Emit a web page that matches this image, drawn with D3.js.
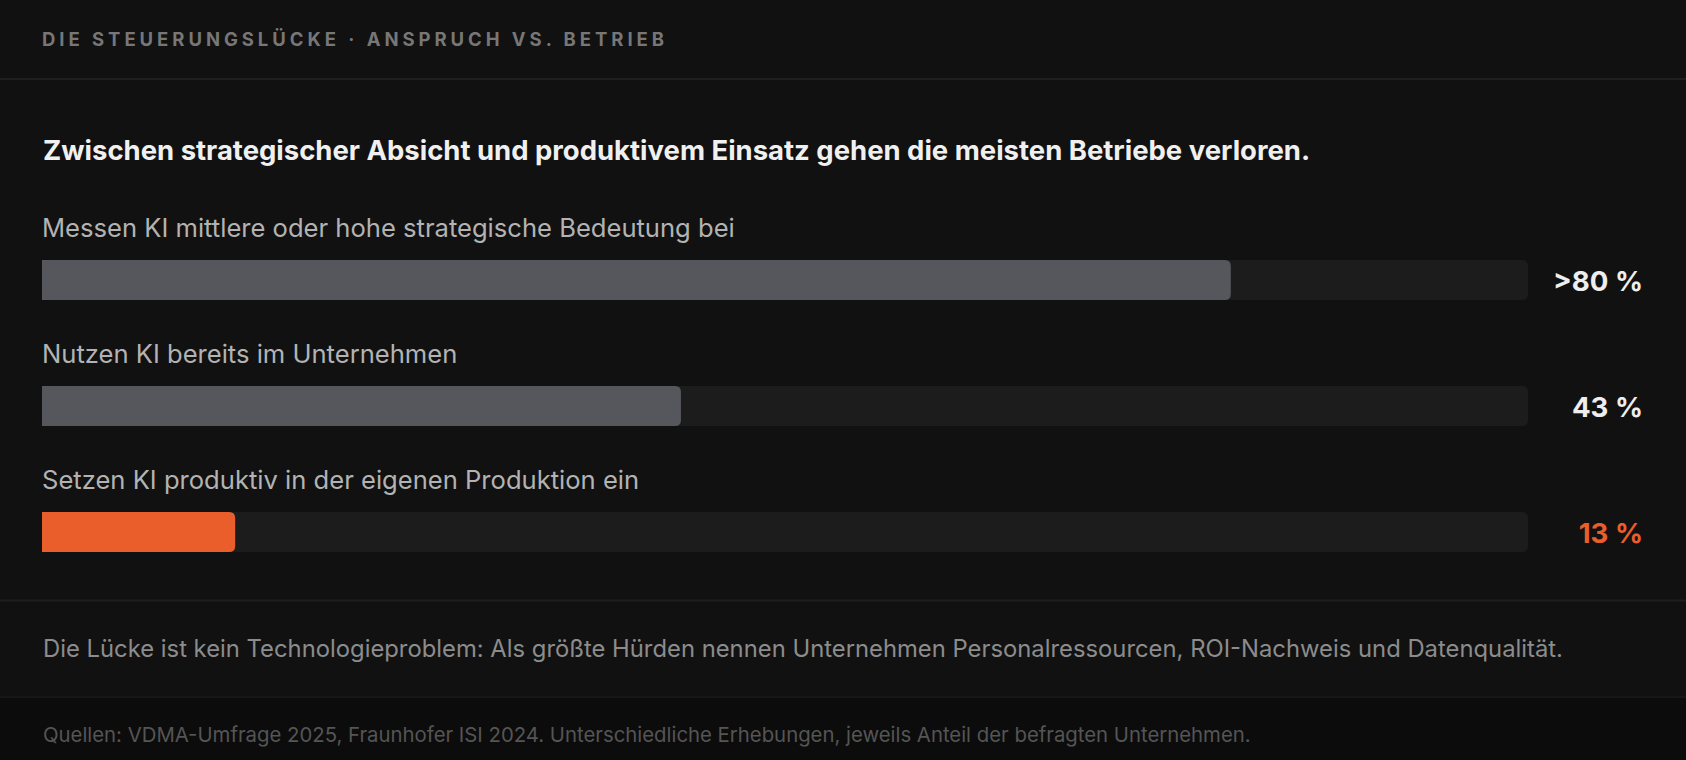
<!DOCTYPE html>
<html lang="de">
<head>
<meta charset="utf-8">
<script src="https://cdn.jsdelivr.net/npm/d3@7"></script>
<style>
  html, body { margin: 0; padding: 0; background: #111111; }
  svg { display: block; font-family: Inter, "Noto Sans", "DejaVu Sans", sans-serif; }
</style>
</head>
<body>
<svg id="chart" width="1686" height="760"></svg>
<script>
// ---- data ----
const headerText = "DIE STEUERUNGSLÜCKE · ANSPRUCH VS. BETRIEB";
const titleText = "Zwischen strategischer Absicht und produktivem Einsatz gehen die meisten Betriebe verloren.";
const categories = [
  "Messen KI mittlere oder hohe strategische Bedeutung bei",
  "Nutzen KI bereits im Unternehmen",
  "Setzen KI produktiv in der eigenen Produktion ein"
];
const values = [80, 43, 13];
const valueLabels = [">80 %", "43 %", "13 %"];
const highlight = [false, false, true];
const noteText = "Die Lücke ist kein Technologieproblem: Als größte Hürden nennen Unternehmen Personalressourcen, ROI-Nachweis und Datenqualität.";
const sourceText = "Quellen: VDMA-Umfrage 2025, Fraunhofer ISI 2024. Unterschiedliche Erhebungen, jeweils Anteil der befragten Unternehmen.";

// ---- layout ----
const W = 1686, H = 760;
const svg = d3.select("#chart");

const x = d3.scaleLinear().domain([0, 100]).range([42, 1528]);
const y = d3.scalePoint().domain(categories).range([260, 512]);
const barH = 40, r = 6;

function fitText(sel, targetWidth) {
  const node = sel.node();
  const base = parseFloat(sel.attr("font-size"));
  const w = node.getComputedTextLength();
  const fs = base * targetWidth / w;
  sel.attr("font-size", fs);
  return fs;
}

// backgrounds
svg.append("rect").attr("x", 0).attr("y", 0).attr("width", W).attr("height", H).attr("fill", "#111111");
svg.append("rect").attr("x", 0).attr("y", 697).attr("width", W).attr("height", H - 697).attr("fill", "#0c0c0c");
// dividers
[[79, "#1f1f1f"], [600.5, "#1f1f1f"], [697, "#171717"]].forEach(([yy, c]) => {
  svg.append("line").attr("x1", 0).attr("x2", W).attr("y1", yy).attr("y2", yy)
    .attr("stroke", c).attr("stroke-width", 2);
});

// header
svg.append("text")
  .attr("x", 42).attr("y", 45.7)
  .attr("font-size", 18.5).attr("font-weight", 700)
  .attr("fill", "#777777")
  .attr("textLength", 622).attr("lengthAdjust", "spacing")
  .text(headerText);

// title
const title = svg.append("text")
  .attr("x", 43).attr("y", 159.5)
  .attr("font-size", 25).attr("font-weight", 700)
  .attr("fill", "#f0f0f0")
  .text(titleText);
fitText(title, 1268);

// labels
const labels = svg.selectAll("text.label").data(categories).join("text")
  .attr("class", "label")
  .attr("x", 42)
  .attr("y", d => y(d) - 22.7)
  .attr("font-size", 24)
  .attr("fill", "#b3b3b3")
  .text(d => d);
const labelFs = fitText(d3.select(labels.nodes()[0]), 693);
labels.attr("font-size", labelFs);

// tracks
function rightRounded(x0, y0, w, h, rad) {
  const rr = Math.min(rad, w);
  return `M${x0},${y0}H${x0 + w - rr}Q${x0 + w},${y0} ${x0 + w},${y0 + rr}V${y0 + h - rr}Q${x0 + w},${y0 + h} ${x0 + w - rr},${y0 + h}H${x0}Z`;
}
svg.selectAll("path.track").data(categories).join("path")
  .attr("class", "track")
  .attr("d", d => rightRounded(x(0), y(d), x(100) - x(0), barH, r))
  .attr("fill", "#1c1c1c");

// fills
svg.selectAll("path.fill").data(categories).join("path")
  .attr("class", "fill")
  .attr("d", (d, i) => rightRounded(x(0), y(d), x(values[i]) - x(0), barH, r))
  .attr("fill", (d, i) => highlight[i] ? "#e95e2b" : "#56575c");

// value labels
const vals = svg.selectAll("text.val").data(categories).join("text")
  .attr("class", "val")
  .attr("x", 1643)
  .attr("y", d => y(d) + 31)
  .attr("text-anchor", "end")
  .attr("font-size", 26).attr("font-weight", 700)
  .attr("fill", (d, i) => highlight[i] ? "#e95e2b" : "#eeeeee")
  .text((d, i) => valueLabels[i]);
const valFs = fitText(d3.select(vals.nodes()[0]), 90);
vals.attr("font-size", valFs);

// note
const note = svg.append("text")
  .attr("x", 43).attr("y", 657.3)
  .attr("font-size", 22)
  .attr("fill", "#8c8c8c")
  .text(noteText);
fitText(note, 1521);

// source
const src = svg.append("text")
  .attr("x", 43).attr("y", 741.7)
  .attr("font-size", 19)
  .attr("fill", "#555555")
  .text(sourceText);
fitText(src, 1208);
</script>
</body>
</html>
